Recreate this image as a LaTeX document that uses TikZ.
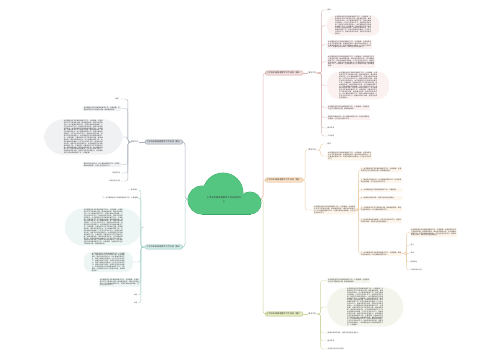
\documentclass[tikz,border=0pt]{standalone}
\usepackage{fontspec}
\setmainfont{Noto Sans CJK SC}
\XeTeXlinebreaklocale "zh"
\XeTeXlinebreakskip=0pt plus 0.5pt
\usetikzlibrary{calc}
\definecolor{txtc}{HTML}{3A3A3A}
\definecolor{cloudF}{HTML}{55C582}
\definecolor{cloudB}{HTML}{3DA866}
\definecolor{pkF}{HTML}{F3DEDE}\definecolor{pkB}{HTML}{CFA3A3}\definecolor{pkL}{HTML}{E0B9B9}\definecolor{pkT}{HTML}{FBF1F1}
\definecolor{orF}{HTML}{FBE2C6}\definecolor{orB}{HTML}{E4B584}\definecolor{orL}{HTML}{EDCDA8}\definecolor{orT}{HTML}{FDF4EA}
\definecolor{grF}{HTML}{E5ECC2}\definecolor{grB}{HTML}{B3C273}\definecolor{grL}{HTML}{CDD79F}\definecolor{grT}{HTML}{F3F5EC}
\definecolor{gyF}{HTML}{D3D8DE}\definecolor{gyB}{HTML}{96A0AC}\definecolor{gyL}{HTML}{A9B2BC}\definecolor{gyT}{HTML}{EFF1F3}
\definecolor{tlF}{HTML}{D4ECE8}\definecolor{tlB}{HTML}{8EC4BC}\definecolor{tlL}{HTML}{A8D3CC}\definecolor{tlT}{HTML}{EDF6F4}
\newcommand\ZA{本学期我担任五年级英语教学工作，认真备课。}
\newcommand\ZB{注重培养学生学习英语的兴趣，提高课堂效率。}
\newcommand\ZC{课后及时批改作业，并认真做好辅导工作。}
\newcommand\ZD{利用多媒体创设情境，让学生在活动中学习。}
\newcommand\ZE{加强听说读写训练，培养学生综合运用能力。}
\newcommand\ZP{\ZA\ZB\ZC\ZD\ZE}
\tikzset{
  sm/.style={font=\fontsize{1.6}{1.9}\selectfont, text=txtc, inner sep=0.5pt},
  blk/.style={sm, text width=#1, align=justify, inner xsep=1pt, inner ysep=0.8pt, rounded corners=1pt},
  pill/.style 2 args={sm, text width=#1, align=justify, rounded corners=#2, inner xsep=#2, inner ysep=0.8pt},
  ttl/.style={font=\fontsize{2.1}{2.5}\selectfont, text=txtc, rounded corners=1.5pt, inner xsep=1.5pt, inner ysep=1.1pt, draw, line width=0.35pt},
  lab/.style={font=\fontsize{1.8}{2.1}\selectfont, text=txtc, inner sep=0.5pt},
  ctr/.style={font=\fontsize{2.3}{2.8}\selectfont, text=txtc, inner sep=0pt},
  ln/.style={line width=0.5pt, rounded corners=3pt},
  lnc/.style={line width=0.35pt, rounded corners=2.5pt},
  cloudedge/.style={draw=cloudB, line width=0.8pt},
  cloudbody/.style={fill=cloudF}
}
\begin{document}
\begin{tikzpicture}[x=1pt,y=-1pt]
\useasboundingbox (0,0) rectangle (500,360);
\fill[white] (0,0) rectangle (500,360);
\coordinate (cR) at (255,199);
\coordinate (cL) at (195,199);
% ---------- titles ----------
\node[ttl, fill=pkF, draw=pkB, anchor=west] (R1) at (265,73) {小学五年级英语教学工作总结（篇1）};
\node[ttl, fill=orF, draw=orB, anchor=west] (R2) at (265,180) {小学五年级英语教学工作总结（篇2）};
\node[ttl, fill=grF, draw=grB, anchor=west] (R3) at (265,314) {小学五年级英语教学工作总结（篇3）};
\node[ttl, fill=gyF, draw=gyB, anchor=east] (L1) at (183,142) {小学五年级英语教学工作总结（篇5）};
\node[ttl, fill=tlF, draw=tlB, anchor=east] (L2) at (183,247) {小学五年级英语教学工作总结（篇4）};
\draw[ln, draw=pkL] (cR) -| ($(R1.west)+(-2,0)$) -- (R1.west);
\draw[ln, draw=orL] (cR) -| ($(R2.west)+(-2,0)$) -- (R2.west);
\draw[ln, draw=grL] (cR) -| ($(R3.west)+(-2,0)$) -- (R3.west);
\draw[ln, draw=gyL] (cL) -| ($(L1.east)+(2,0)$) -- (L1.east);
\draw[ln, draw=tlL] (cL) -| ($(L2.east)+(2,0)$) -- (L2.east);
% ---------- cloud (each part stroked, then each part filled) ----------
\path[cloudedge] (223,193) circle[radius=20pt];
\path[cloudedge] (202,200) circle[radius=14pt];
\path[cloudedge] (250,203) circle[radius=11pt];
\path[cloudedge] (202,195) rectangle (250,214);
\path[cloudbody] (223,193) circle[radius=20pt];
\path[cloudbody] (202,200) circle[radius=14pt];
\path[cloudbody] (250,203) circle[radius=11pt];
\path[cloudbody] (202,195) rectangle (250,214);
\node[ctr] (ctext) at (224,197.5) {\hbox{小学五年级英语教学工作总结范文}};
\node[ctr] (ctext2) at (224,201.5) {\hbox{6}};
% ---------- R1 ----------
\node[lab, anchor=west] (R1l) at (308,73) {教学工作};
\draw[lnc, draw=pkL] (R1.east) -- (R1l.west);
\node[sm, anchor=west] (r1a) at (327,10) {教学：};
\node[pill={36pt}{8pt}, fill=pkT, anchor=west] (r1b) at (327,25.5) {\ZP\ZP};
\node[blk={43pt}, fill=pkT, anchor=west] (r1c) at (327,44.5) {\ZP};
\node[blk={46pt}, fill=pkT, anchor=west] (r1d) at (327,61.5) {\ZP\ZA\ZB};
\node[pill={38pt}{12pt}, fill=pkT, anchor=west] (r1e) at (327,85.5) {\ZP\ZP\ZP};
\node[blk={41pt}, fill=pkT, anchor=west] (r1f) at (327,107.5) {\ZA\ZB};
\node[blk={41pt}, fill=pkT, anchor=west] (r1g) at (327,117.5) {\ZC\ZD};
\node[sm, anchor=west] (r1h) at (327,128) {教学反思};
\node[sm, anchor=west] (r1i) at (327,136) {工作总结};
\foreach \c in {r1a,r1b,r1c,r1d,r1e,r1f,r1g,r1h,r1i}
  \draw[lnc, draw=pkL] (R1l.east) -- ++(5,0) |- (\c.west);
% ---------- R2 ----------
\node[lab, anchor=west] (R2l) at (308,150) {教学工作};
\node[blk={41pt}, fill=orT, anchor=west] (R2b) at (313,210) {\ZA\ZB\ZC\ZD};
\draw[lnc, draw=orL] (R2.east) -- ++(2,0) |- (R2l.west);
\draw[lnc, draw=orL] (R2.east) -- ++(2,0) |- (R2b.west);
\node[sm, anchor=west] (r2a) at (327,144) {教学：};
\node[blk={43pt}, fill=orT, anchor=west] (r2b) at (327,156) {\ZA\ZB\ZC\ZD};
\foreach \c in {r2a,r2b}
  \draw[lnc, draw=orL] (R2l.east) -- ++(4,0) |- (\c.west);
\node[blk={40pt}, fill=orT, anchor=west] (s1) at (360,169.5) {1、\ZA\ZB};
\node[blk={40pt}, fill=orT, anchor=west] (s2) at (360,180.5) {2、\ZC\ZD};
\node[blk={40pt}, fill=orT, anchor=west] (s3) at (360,190) {3、\ZA};
\node[blk={40pt}, fill=orT, anchor=west] (s4) at (360,198) {4、\ZE};
\node[blk={40pt}, fill=orT, anchor=west] (s5) at (360,208.5) {5、\ZB\ZC};
\node[blk={40pt}, fill=orT, anchor=west] (s6) at (360,220.5) {6、\ZD\ZE};
\node[blk={40pt}, fill=orT, anchor=west] (s7) at (360,253.5) {7、\ZA\ZC};
\foreach \c in {s1,s2,s3,s4,s5,s6,s7}
  \draw[lnc, draw=orL] (R2b.east) -- ++(2,0) |- (\c.west);
\node[blk={45pt}, fill=orT, anchor=west] (t1) at (410,232.5) {\ZP};
\node[sm, anchor=west] (t2) at (410,245) {复习};
\node[sm, anchor=west] (t3) at (410,253) {考试：};
\node[sm, anchor=west] (t4) at (410,262) {成绩分析};
\node[sm, anchor=west] (t5) at (410,270) {今后的努力方向};
\foreach \c in {t1,t2,t3,t4,t5}
  \draw[lnc, draw=orL] (s7.east) -- ++(4,0) |- (\c.west);
% ---------- R3 ----------
\node[lab, anchor=west] (R3l) at (308,314) {教学工作};
\draw[lnc, draw=grL] (R3.east) -- (R3l.west);
\node[blk={41pt}, fill=grT, anchor=west] (r3a) at (327,280.5) {\ZA\ZB};
\node[pill={36pt}{20pt}, fill=grT, anchor=west] (r3b) at (327,307) {\ZP\ZP\ZP\ZP\ZA};
\node[sm, anchor=west] (r3c) at (327,333) {\ZE};
\node[sm, anchor=west] (r3d) at (327,341) {教学反思};
\node[sm, anchor=west] (r3e) at (327,349) {今后努力的方向与目标};
\foreach \c in {r3a,r3b,r3c,r3d,r3e}
  \draw[lnc, draw=grL] (R3l.east) -- ++(4,0) |- (\c.west);
% ---------- L1 ----------
\node[lab, anchor=east] (L1l) at (139,142) {教学工作};
\draw[lnc, draw=gyL] (L1.west) -- (L1l.east);
\node[sm, anchor=east] (l1a) at (121,99) {教学：};
\node[blk={36pt}, fill=gyT, anchor=east] (l1b) at (121,108.5) {\ZA\ZB};
\node[pill={39pt}{20pt}, fill=gyT, anchor=east] (l1c) at (123,137) {\ZP\ZP\ZP\ZP\ZA};
\node[blk={36pt}, fill=gyT, anchor=east] (l1d) at (121,164.5) {\ZC\ZD};
\node[sm, anchor=east] (l1e) at (121,173) {存在的不足};
\node[sm, anchor=east] (l1f) at (121,181) {今后的努力方向};
\foreach \c in {l1a,l1b,l1c,l1d,l1e,l1f}
  \draw[lnc, draw=gyL] (L1l.west) -- ++(-2.5,0) |- (\c.east);
% ---------- L2 ----------
\node[sm, anchor=east] (l2a) at (138,190) {一、教学目标};
\node[sm, anchor=east] (l2b) at (140,198) {二、\ZA};
\node[pill={39pt}{19pt}, fill=tlT, anchor=east] (l2c) at (142,227) {\ZP\ZP\ZP\ZP\ZA\ZB};
\node[pill={33pt}{8pt}, fill=tlT, anchor=east] (l2d) at (133,262) {\ZP\ZD\ZE\ZA\ZB};
\node[blk={39pt}, fill=tlT, anchor=east] (l2e) at (140,282.5) {\ZA\ZB\ZC\ZD};
\node[sm, anchor=east] (l2f) at (138,295) {总结};
\node[sm, anchor=east] (l2g) at (138,303) {反思};
\foreach \c in {l2a,l2b,l2c,l2d,l2e,l2f,l2g}
  \draw[lnc, draw=tlL] (L2.west) -- ++(-4,0) |- (\c.east);
\end{tikzpicture}
\end{document}
